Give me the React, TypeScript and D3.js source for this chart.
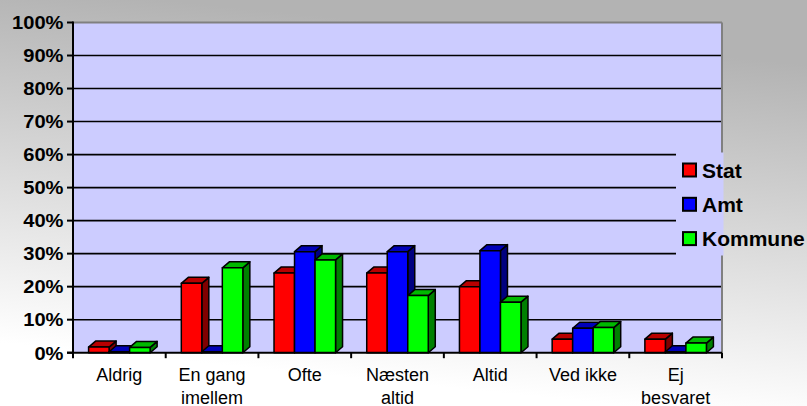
import React from "react";
import * as d3 from "d3";

const categories = [["Aldrig"], ["En gang", "imellem"], ["Ofte"], ["Næsten", "altid"], ["Altid"], ["Ved ikke"], ["Ej", "besvaret"]];
const seriesNames = ["Stat", "Amt", "Kommune"];
const stat = [0.017, 0.21, 0.241, 0.241, 0.2, 0.041, 0.041];
const amt = [0.003, 0.003, 0.306, 0.306, 0.309, 0.074, 0.003];
const kommune = [0.016, 0.257, 0.281, 0.173, 0.153, 0.076, 0.029];
const yTicks = [0, 0.1, 0.2, 0.3, 0.4, 0.5, 0.6, 0.7, 0.8, 0.9, 1.0];

const seriesValues = [stat, amt, kommune];
const frontColors = ["#FF0000", "#0000FF", "#00FF00"];
const topColors = ["#B80000", "#0000B8", "#00B800"];
const sideColors = ["#800000", "#000080", "#008000"];

const W = 807, H = 406;
const L = 73, R = 722, T = 22.5, B = 352.7;
const DX = 7, DY = 6;

export default function App() {
  const x = d3.scaleBand<number>().domain(d3.range(categories.length)).range([L, R]).padding(0);
  const xs = d3.scaleBand<number>().domain([0, 1, 2]).range([0, x.bandwidth()]).paddingInner(0).paddingOuter(0.76);
  const y = d3.scaleLinear().domain([0, 1]).range([B, T]);
  const bw = xs.bandwidth();
  const font = "'Liberation Sans', Arial, sans-serif";

  const bars: React.ReactNode[] = [];
  categories.forEach((_, ci) => {
    seriesValues.forEach((vals, si) => {
      const x0 = (x(ci) as number) + (xs(si) as number);
      const x1 = x0 + bw;
      const yt = y(vals[ci]);
      const front = `M${x0},${B}L${x0},${yt}L${x1},${yt}L${x1},${B}Z`;
      const top = `M${x0},${yt}L${x0 + DX},${yt - DY}L${x1 + DX},${yt - DY}L${x1},${yt}Z`;
      const side = `M${x1},${B}L${x1},${yt}L${x1 + DX},${yt - DY}L${x1 + DX},${B - DY}Z`;
      bars.push(
        <g key={`b${ci}-${si}`} stroke="#000" strokeWidth={1.5} strokeLinejoin="round">
          <path d={side} fill={sideColors[si]} />
          <path d={top} fill={topColors[si]} />
          <path d={front} fill={frontColors[si]} />
        </g>
      );
    });
  });

  return (
    <svg width={W} height={H} style={{ position: "absolute", left: 0, top: 0 }} fontFamily={font}>
      <defs>
        <linearGradient id="bg" x1="0.2" y1="0" x2="0" y2="1">
          <stop offset="0" stopColor="#B3B3B3" />
          <stop offset="0.85" stopColor="#FFFFFF" />
          <stop offset="1" stopColor="#FFFFFF" />
        </linearGradient>
      </defs>
      <rect x={0} y={0} width={W} height={H} fill="url(#bg)" />
      <rect x={L} y={T} width={R - L} height={B - T} fill="#CCCCFF" />
      {yTicks.filter(t => t > 0 && t < 1).map(t => (
        <line key={`g${t}`} x1={L} x2={R} y1={y(t)} y2={y(t)} stroke="#000" strokeWidth={1.6} />
      ))}
      <line x1={L} x2={R} y1={T} y2={T} stroke="#808080" strokeWidth={2} />
      <line x1={R} x2={R} y1={T} y2={B} stroke="#808080" strokeWidth={2} />
      {/* legend box */}
      <rect x={676} y={152.5} width={R - 676 + 1.5} height={103} fill="#CCCCFF" />
      {bars}
      {/* axes */}
      <line x1={L} x2={L} y1={T - 1} y2={B + 1} stroke="#000" strokeWidth={2} />
      <line x1={L - 6} x2={R} y1={B} y2={B} stroke="#000" strokeWidth={2} />
      {yTicks.map(t => (
        <g key={`yt${t}`}>
          <line x1={L - 6} x2={L} y1={y(t)} y2={y(t)} stroke="#000" strokeWidth={2} />
          <text x={0} y={0} transform={`translate(63.5,${y(t) + 6.8}) scale(1.06,1)`} textAnchor="end" fontSize={19} fontWeight="bold" fill="#000">
            {`${Math.round(t * 100)}%`}
          </text>
        </g>
      ))}
      {d3.range(categories.length + 1).map(i => {
        const xx = i < categories.length ? (x(i) as number) : R;
        return <line key={`xt${i}`} x1={xx} x2={xx} y1={B} y2={B + 5.5} stroke="#000" strokeWidth={2} />;
      })}
      {categories.map((lines, ci) => (
        <text key={`c${ci}`} x={(x(ci) as number) + x.bandwidth() / 2} y={381} textAnchor="middle" fontSize={18} fill="#000">
          {lines.map((ln, li) => (
            <tspan key={li} x={(x(ci) as number) + x.bandwidth() / 2} dy={li === 0 ? 0 : 22.5}>{ln}</tspan>
          ))}
        </text>
      ))}
      {seriesNames.map((n, si) => (
        <g key={`l${si}`} transform={`translate(0,${si * 34.3})`}>
          <rect x={683} y={163.5} width={13} height={13} fill={frontColors[si]} stroke="#000" strokeWidth={2} />
          <text x={702} y={177.5} fontSize={21} fontWeight="bold" fill="#000">{n}</text>
        </g>
      ))}
    </svg>
  );
}
